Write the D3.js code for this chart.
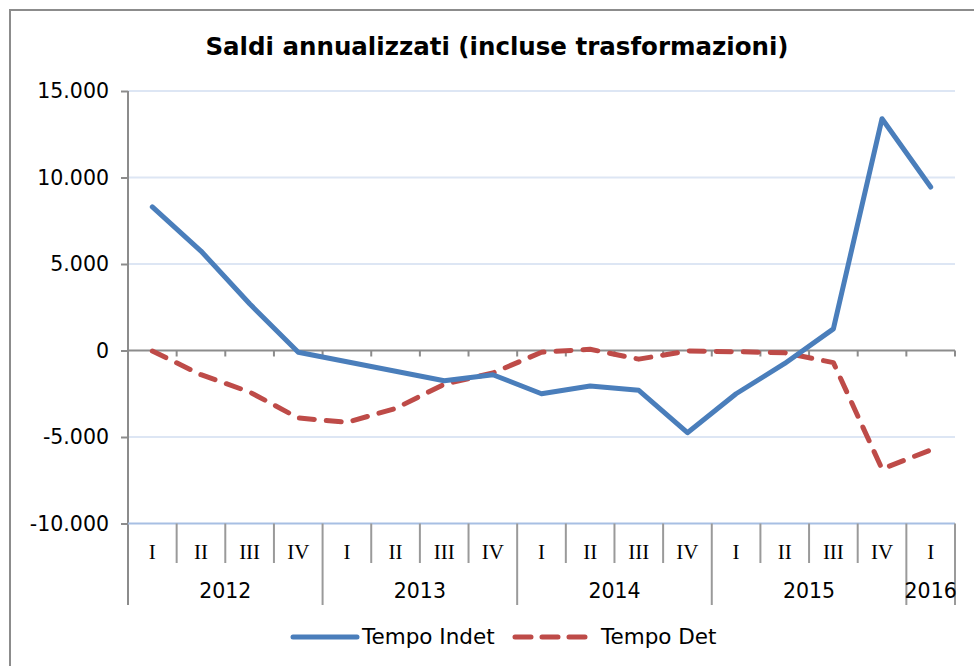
<!DOCTYPE html>
<html><head><meta charset="utf-8">
<script src="https://cdn.jsdelivr.net/npm/d3@7"></script>
<style>body{margin:0;background:#fff}svg{display:block}</style>
</head><body>
<script>
const years = ["2012","2013","2014","2015","2016"];
const quarters = ["I","II","III","IV","I","II","III","IV","I","II","III","IV","I","II","III","IV","I"];
const quarterYears = ["2012","2012","2012","2012","2013","2013","2013","2013","2014","2014","2014","2014","2015","2015","2015","2015","2016"];
const tempoIndet = [8300, 5750, 2700, -100, -650, -1200, -1750, -1400, -2500, -2050, -2300, -4750, -2500, -750, 1250, 13400, 9450];
const tempoDet = [-30, -1400, -2400, -3900, -4150, -3350, -1950, -1300, -100, 70, -500, -30, -70, -130, -700, -6850, -5750];
const yTicks = [-10000, -5000, 0, 5000, 10000, 15000];
const seriesNames = ["Tempo Indet", "Tempo Det"];

const W = 974, H = 666;
const svg = d3.select("body").append("svg").attr("width", W).attr("height", H);
const L = 128, R = 955, T = 91, B = 523.5;
const sans = "DejaVu Sans, Verdana, sans-serif";

svg.append("rect").attr("x", 10).attr("y", 10).attr("width", 980).attr("height", 700)
  .attr("fill", "#fff").attr("stroke", "#8c8c8c").attr("stroke-width", 2);

svg.append("text").attr("x", 497).attr("y", 55).attr("text-anchor", "middle")
  .attr("font-family", sans).attr("font-weight", "bold")
  .attr("font-size", 24.5).attr("fill", "#000").text("Saldi annualizzati (incluse trasformazioni)");

const idx = d3.range(quarters.length);
const xBand = d3.scaleBand().domain(idx).range([L, R]).paddingInner(0).paddingOuter(0);
const xc = i => xBand(i) + xBand.bandwidth() / 2;
const y = d3.scaleLinear().domain([-10000, 15000]).range([B, T]);
const fmt = v => d3.format(",")(Math.abs(v)).replace(/,/g, ".").replace(/^/, v < 0 ? "-" : "");

// gridlines
svg.append("g").selectAll("line").data(yTicks.filter(v => v !== 0 && v !== -10000)).join("line")
  .attr("x1", L).attr("x2", R).attr("y1", d => y(d)).attr("y2", d => y(d))
  .attr("stroke", "#dde6f4").attr("stroke-width", 2);

// y axis
const yAxis = d3.axisLeft(y).tickValues(yTicks).tickSize(7).tickPadding(12).tickFormat(fmt);
const gy = svg.append("g").attr("transform", `translate(${L},0)`).call(yAxis);
gy.select(".domain").remove();
gy.selectAll(".tick line").attr("stroke", "#8c8c8c").attr("stroke-width", 2);
gy.selectAll(".tick text").attr("font-family", sans).attr("font-size", 20.5).attr("fill", "#000");
svg.append("line").attr("x1", L).attr("x2", L).attr("y1", T).attr("y2", 605)
  .attr("stroke", "#8c8c8c").attr("stroke-width", 2);

// bottom line at -10000
svg.append("line").attr("x1", L).attr("x2", R).attr("y1", B).attr("y2", B)
  .attr("stroke", "#a7bfe3").attr("stroke-width", 2);

// zero axis with ticks
const gz = svg.append("g").attr("transform", `translate(0,${y(0)})`);
gz.append("line").attr("x1", L).attr("x2", R).attr("y1", 0).attr("y2", 0).attr("stroke", "#8c8c8c").attr("stroke-width", 2);
gz.selectAll("line.t").data(d3.range(1, quarters.length + 1)).join("line").attr("class", "t")
  .attr("x1", i => xBand(i - 1) + xBand.bandwidth()).attr("x2", i => xBand(i - 1) + xBand.bandwidth())
  .attr("y1", 0).attr("y2", 6).attr("stroke", "#8c8c8c").attr("stroke-width", 2);

// category separators
const sep = svg.append("g");
idx.slice(1).forEach(i => {
  const isYear = quarterYears[i] !== quarterYears[i - 1];
  sep.append("line").attr("x1", xBand(i)).attr("x2", xBand(i)).attr("y1", B).attr("y2", isYear ? 605 : 563)
    .attr("stroke", "#9a9a9a").attr("stroke-width", 2);
});
sep.append("line").attr("x1", R).attr("x2", R).attr("y1", B).attr("y2", 605).attr("stroke", "#9a9a9a").attr("stroke-width", 2);

svg.append("g").selectAll("text").data(idx).join("text")
  .attr("x", i => xc(i)).attr("y", 559).attr("text-anchor", "middle")
  .attr("font-family", "Liberation Serif, Times New Roman, serif").attr("font-size", 21).attr("fill", "#000")
  .text(i => quarters[i]);

svg.append("g").selectAll("text").data(years).join("text")
  .attr("x", yr => {
    const ii = idx.filter(i => quarterYears[i] === yr);
    return (xBand(ii[0]) + xBand(ii[ii.length - 1]) + xBand.bandwidth()) / 2;
  })
  .attr("y", 598).attr("text-anchor", "middle")
  .attr("font-family", sans).attr("font-size", 20.5).attr("fill", "#000")
  .text(d => d);

// lines
const line = d3.line().x((d, i) => xc(i)).y(d => y(d));
svg.append("path").datum(tempoDet).attr("d", line).attr("fill", "none")
  .attr("stroke", "#be4b48").attr("stroke-width", 5).attr("stroke-linecap", "round").attr("stroke-linejoin", "round")
  .attr("stroke-dasharray", "15,12");
svg.append("path").datum(tempoIndet).attr("d", line).attr("fill", "none")
  .attr("stroke", "#4a7ebb").attr("stroke-width", 5).attr("stroke-linecap", "round").attr("stroke-linejoin", "round");

// legend
const lg = svg.append("g");
lg.append("line").attr("x1", 293).attr("x2", 357).attr("y1", 637).attr("y2", 637)
  .attr("stroke", "#4a7ebb").attr("stroke-width", 5).attr("stroke-linecap", "round");
lg.append("text").attr("x", 362).attr("y", 644).attr("font-family", sans)
  .attr("font-size", 21.5).attr("fill", "#000").text(seriesNames[0]);
lg.append("line").attr("x1", 515).attr("x2", 590).attr("y1", 637).attr("y2", 637)
  .attr("stroke", "#be4b48").attr("stroke-width", 5).attr("stroke-linecap", "round").attr("stroke-dasharray", "16,11");
lg.append("text").attr("x", 601).attr("y", 644).attr("font-family", sans)
  .attr("font-size", 21.5).attr("fill", "#000").text(seriesNames[1]);
</script>
</body></html>
